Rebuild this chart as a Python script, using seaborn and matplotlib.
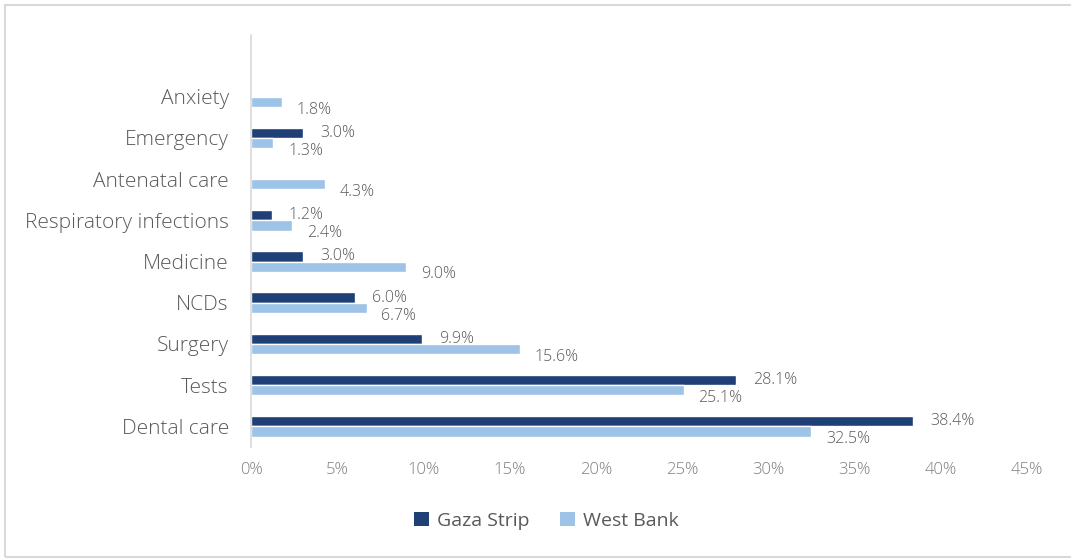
import matplotlib
matplotlib.use("Agg")
import matplotlib.pyplot as plt
from matplotlib.patches import Patch, Rectangle
import numpy as np
import pandas as pd
import seaborn as sns

categories = ["Anxiety", "Emergency", "Antenatal care", "Respiratory infections",
              "Medicine", "NCDs", "Surgery", "Tests", "Dental care"]
gaza = [np.nan, 3.0, np.nan, 1.2, 3.0, 6.0, 9.9, 28.1, 38.4]
west_bank = [1.8, 1.3, 4.3, 2.4, 9.0, 6.7, 15.6, 25.1, 32.5]
series = ["Gaza Strip", "West Bank"]
colors = ["#1F3F77", "#9DC3E6"]
x_ticks = [0, 5, 10, 15, 20, 25, 30, 35, 40, 45]

sns.set_theme(style="white")
plt.rcParams["font.family"] = ["Open Sans", "DejaVu Sans"]

df = pd.DataFrame({
    "category": categories * 2,
    "value": gaza + west_bank,
    "region": [series[0]] * len(categories) + [series[1]] * len(categories),
})

fig = plt.figure(figsize=(10.71, 5.6), dpi=100)
ax = fig.add_axes([0.2344, 0.2018, 0.9589 - 0.2344, 0.9375 - 0.2018])

sns.barplot(data=df.dropna(), x="value", y="category", hue="region",
            order=categories, hue_order=series, palette=colors,
            orient="h", width=0.5, dodge=True, saturation=1,
            legend=False, ax=ax, errorbar=None)

ax.set_xlim(0, 45)
ax.set_ylim(len(categories) - 0.5, -1.5)
ax.set_xticks(x_ticks)
ax.set_xticklabels([f"{t}%" for t in x_ticks], fontsize=12, color="#7F7F7F",
                   fontweight="light")
ax.tick_params(axis="x", length=0, pad=11)
ax.tick_params(axis="y", length=0, pad=16)
ax.set_yticks(range(len(categories)))
ax.set_yticklabels(categories, fontsize=15, color="#595959", fontweight="light")
ax.set_xlabel("")
ax.set_ylabel("")
for side in ["top", "right", "bottom"]:
    ax.spines[side].set_visible(False)
ax.spines["left"].set_color("#D9D9D9")
ax.spines["left"].set_linewidth(1.2)

# value labels at the outer end of each bar
for i, (g, w) in enumerate(zip(gaza, west_bank)):
    if not np.isnan(g):
        ax.text(g + 1.0, i - 0.125, f"{g:.1f}%", va="center", ha="left",
                fontsize=11.5, color="#595959", fontweight="light")
    ax.text(w + 0.85, i + 0.31, f"{w:.1f}%", va="center", ha="left",
            fontsize=11.5, color="#595959", fontweight="light")

handles = [Patch(facecolor=c, edgecolor="none") for c in colors]
fig.legend(handles, series, loc="center", bbox_to_anchor=(0.51, 0.07), ncol=2,
           frameon=False, fontsize=14, handlelength=0.75, handleheight=0.75,
           handletextpad=0.4, columnspacing=1.6, labelcolor="#595959")

# outer chart frame
fig.add_artist(Rectangle((5 / 1071, 3 / 560), 1.1, 552 / 560, transform=fig.transFigure,
                         fill=False, edgecolor="#D9D9D9", linewidth=1.5))

fig.savefig("out.png", dpi=100)
